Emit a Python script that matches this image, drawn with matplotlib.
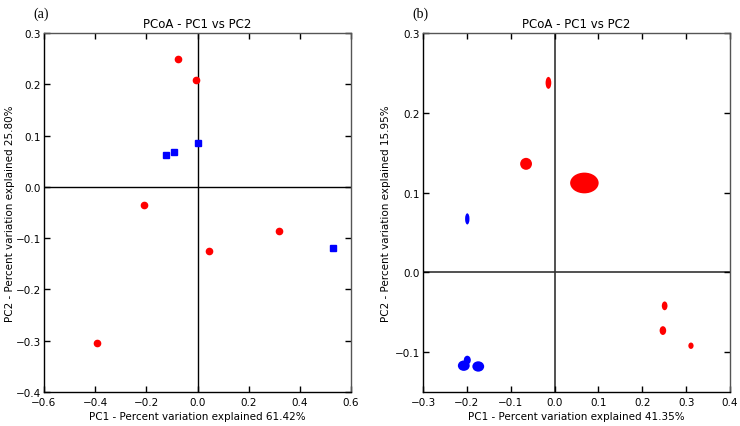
import matplotlib
matplotlib.use("Agg")
import matplotlib.pyplot as plt
from matplotlib.patches import Ellipse

# Panel (a) data
a_red_x = [-0.075, -0.005, -0.208, 0.046, 0.317, -0.394]
a_red_y = [0.250, 0.209, -0.035, -0.125, -0.086, -0.305]
a_blue_x = [-0.124, -0.091, 0.003, 0.530]
a_blue_y = [0.062, 0.068, 0.085, -0.119]

# Panel (b) data: centres and ellipse extents (data units)
b_red_x = [-0.014, -0.065, 0.068, 0.251, 0.247, 0.311]
b_red_y = [0.2375, 0.136, 0.112, -0.042, -0.073, -0.092]
b_red_w = [0.013, 0.027, 0.065, 0.013, 0.015, 0.012]
b_red_h = [0.015, 0.015, 0.026, 0.011, 0.011, 0.008]
b_blue_x = [-0.199, -0.207, -0.199, -0.174]
b_blue_y = [0.067, -0.117, -0.110, -0.118]
b_blue_w = [0.010, 0.027, 0.016, 0.027]
b_blue_h = [0.014, 0.013, 0.011, 0.013]

a_xticks = [-0.6, -0.4, -0.2, 0.0, 0.2, 0.4, 0.6]
a_yticks = [-0.4, -0.3, -0.2, -0.1, 0.0, 0.1, 0.2, 0.3]
b_xticks = [-0.3, -0.2, -0.1, 0.0, 0.1, 0.2, 0.3, 0.4]
b_yticks = [-0.1, 0.0, 0.1, 0.2, 0.3]

RED = "#ff0000"
BLUE = "#0000ff"
FS = 7.5

fig = plt.figure(figsize=(7.4, 4.27), dpi=100)
ax1 = fig.add_axes([44/740, 1-393/427, 307/740, 359/427])
ax2 = fig.add_axes([423/740, 1-393/427, 307/740, 359/427])

def style(ax):
    ax.tick_params(direction="in", top=True, right=True, length=4, width=1,
                   labelsize=FS, pad=2)
    ax.tick_params(axis="x", pad=3.5)
    for s in ax.spines.values():
        s.set_linewidth(1)
    ax.spines["right"].set_color("#555555")
    ax.spines["top"].set_color("#555555")
    ax.set_title("PCoA - PC1 vs PC2", fontsize=8.5, pad=4)

def fmt(vals):
    return [f"{v:.1f}".replace("-", "\u2212") for v in vals]

# Panel (a)
ax1.set_xlim(-0.6, 0.6)
ax1.set_ylim(-0.4, 0.3)
ax1.axhline(0, color="black", lw=1, zorder=1)
ax1.axvline(0, color="black", lw=1, zorder=1)
ax1.plot(a_red_x, a_red_y, "o", color=RED, ms=4.5, mec=RED, zorder=3)
ax1.plot(a_blue_x, a_blue_y, "s", color=BLUE, ms=4.5, mec=BLUE, zorder=3)
ax1.set_xticks(a_xticks)
ax1.set_yticks(a_yticks)
ax1.set_xticklabels(fmt(a_xticks))
ax1.set_yticklabels(fmt(a_yticks))
ax1.set_xlabel("PC1 - Percent variation explained 61.42%", fontsize=FS, labelpad=3)
ax1.set_ylabel("PC2 - Percent variation explained 25.80%", fontsize=FS, labelpad=1)
style(ax1)
fig.text(33/740, 1-14/427, "(a)", fontsize=10, family="Liberation Serif", va="center")

# Panel (b)
ax2.set_xlim(-0.3, 0.4)
ax2.set_ylim(-0.15, 0.3)
ax2.axhline(0, color="#333333", lw=1.2, zorder=1)
ax2.axvline(0, color="#333333", lw=1.2, zorder=1)
for x, y, w, h in zip(b_red_x, b_red_y, b_red_w, b_red_h):
    ax2.add_patch(Ellipse((x, y), w, h, color=RED, lw=0, zorder=3))
for x, y, w, h in zip(b_blue_x, b_blue_y, b_blue_w, b_blue_h):
    ax2.add_patch(Ellipse((x, y), w, h, color=BLUE, lw=0, zorder=3))
ax2.set_xticks(b_xticks)
ax2.set_yticks(b_yticks)
ax2.set_xticklabels(fmt(b_xticks))
ax2.set_yticklabels(fmt(b_yticks))
ax2.set_xlabel("PC1 - Percent variation explained 41.35%", fontsize=FS, labelpad=3)
ax2.set_ylabel("PC2 - Percent variation explained 15.95%", fontsize=FS, labelpad=3)
style(ax2)
fig.text(412/740, 1-14/427, "(b)", fontsize=10, family="Liberation Serif", va="center")

fig.savefig("out.png", dpi=100)
